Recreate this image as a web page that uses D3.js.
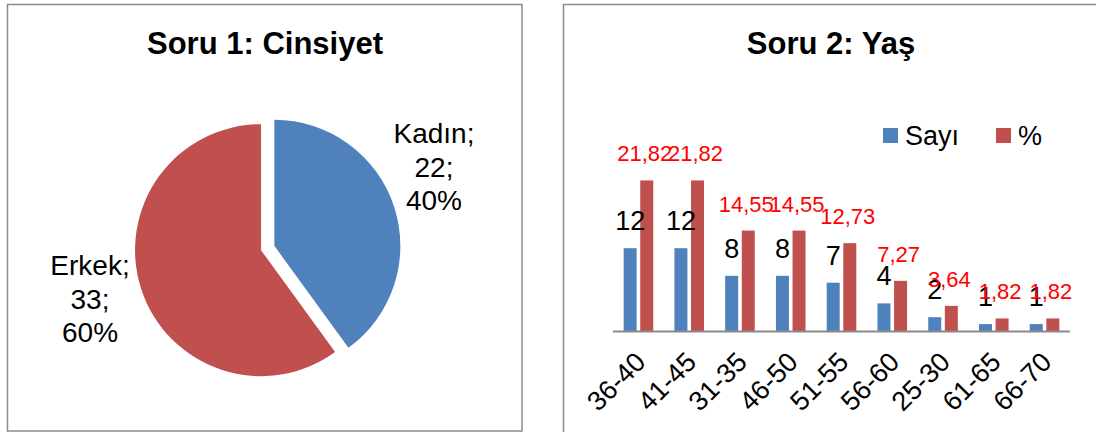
<!DOCTYPE html>
<html>
<head>
<meta charset="utf-8">
<script src="https://cdn.jsdelivr.net/npm/d3@7"></script>
<style>
  body { margin: 0; background: #fff; }
  svg { display: block; font-family: "Liberation Sans", Arial, sans-serif; }
</style>
</head>
<body>
<svg width="1096" height="432"></svg>
<script>
// soru 1
const genders = ["Kadın", "Erkek"];
const genderCounts = [22, 33];

// soru 2
const ageGroups = ["36-40", "41-45", "31-35", "46-50", "51-55", "56-60", "25-30", "61-65", "66-70"];
const ageCounts = [12, 12, 8, 8, 7, 4, 2, 1, 1];
const agePercents = [21.82, 21.82, 14.55, 14.55, 12.73, 7.27, 3.64, 1.82, 1.82];
const seriesNames = ["Sayı", "%"];

const blue = "#4F81BD", red = "#C0504D";
const svg = d3.select("svg");
const tr = d3.formatLocale({decimal: ",", thousands: ".", grouping: [3], currency: ["", "₺"]});
const fmtPct = tr.format(".2f");

// panel frames
svg.append("rect").attr("x", 7.5).attr("y", 4.5).attr("width", 514.5).attr("height", 426.5)
  .attr("fill", "none").attr("stroke", "#8c8c8c").attr("stroke-width", 1.5);
svg.append("rect").attr("x", 563.5).attr("y", 4.5).attr("width", 560).attr("height", 460)
  .attr("fill", "none").attr("stroke", "#8c8c8c").attr("stroke-width", 1.5);

// ---- pie ----
svg.append("text").attr("x", 265).attr("y", 54).attr("text-anchor", "middle")
  .style("font-size", "31px").style("font-weight", "bold").text("Soru 1: Cinsiyet");

const cx = 267.7, cy = 248, r = 126, explode = 7;
const pie = d3.pie().sort(null)(genderCounts);
const arc = d3.arc().innerRadius(0).outerRadius(r);
const total = d3.sum(genderCounts);

const pieG = svg.append("g").attr("transform", `translate(${cx},${cy})`);
pieG.selectAll("path")
  .data(pie)
  .enter().append("path")
  .attr("d", arc)
  .attr("fill", (d, i) => i === 0 ? blue : red)
  .attr("transform", d => {
    const a = (d.startAngle + d.endAngle) / 2;
    return `translate(${Math.sin(a) * explode},${-Math.cos(a) * explode})`;
  });

const pieLabelPos = [[434 - cx, 143 - cy], [90 - cx, 275 - cy]];
pie.forEach((d, i) => {
  const t = pieG.append("text")
    .attr("text-anchor", "middle")
    .style("font-size", "28px")
    .attr("x", pieLabelPos[i][0]).attr("y", pieLabelPos[i][1]);
  const lines = [genders[i] + ";", genderCounts[i] + ";", Math.round(genderCounts[i] / total * 100) + "%"];
  lines.forEach((s, j) => {
    t.append("tspan").attr("x", pieLabelPos[i][0]).attr("dy", j === 0 ? 0 : 33.5).text(s);
  });
});

// ---- bars ----
svg.append("text").attr("x", 831).attr("y", 54).attr("text-anchor", "middle")
  .style("font-size", "31px").style("font-weight", "bold").text("Soru 2: Yaş");

const x0 = d3.scaleBand().domain(ageGroups).range([613, 1070]).paddingInner(0.417).paddingOuter(0.21);
const x1 = d3.scaleBand().domain(seriesNames).range([0, x0.bandwidth()]).paddingInner(0.217);
const y = d3.scaleLinear().domain([0, 25]).range([331, 158.5]);

const rows = ageGroups.map((g, i) => ({g, vals: [ageCounts[i], agePercents[i]]}));

const groups = svg.append("g").selectAll("g")
  .data(rows)
  .enter().append("g")
  .attr("transform", d => `translate(${x0(d.g)},0)`);

groups.selectAll("rect")
  .data(d => d.vals.map((v, k) => ({k, v})))
  .enter().append("rect")
  .attr("x", d => x1(seriesNames[d.k]))
  .attr("width", x1.bandwidth())
  .attr("y", d => y(d.v))
  .attr("height", d => y(0) - y(d.v))
  .attr("fill", d => d.k === 0 ? blue : red);

// axis line
svg.append("line").attr("x1", 613).attr("x2", 1070).attr("y1", y(0) + 0.5).attr("y2", y(0) + 0.5)
  .attr("stroke", "#8a8a8a").attr("stroke-width", 2);

// data labels
groups.append("text")
  .attr("x", x1("Sayı") + x1.bandwidth() / 2)
  .attr("y", d => y(d.vals[0]) - 18)
  .attr("text-anchor", "middle")
  .style("font-size", "27px")
  .attr("fill", "#000")
  .text(d => d.vals[0]);

groups.append("text")
  .attr("x", x1("%") + x1.bandwidth() / 2 - 2)
  .attr("y", d => y(d.vals[1]) - 19)
  .attr("text-anchor", "middle")
  .style("font-size", "22px")
  .attr("fill", "#FF0000")
  .text(d => fmtPct(d.vals[1]));

// x tick labels
svg.append("g").selectAll("text")
  .data(ageGroups)
  .enter().append("text")
  .attr("text-anchor", "end")
  .attr("dy", "0.35em")
  .style("font-size", "27px")
  .attr("transform", d => `translate(${x0(d) + x0.bandwidth() / 2 + 2},357) rotate(-45)`)
  .text(d => d);

// legend
const legend = svg.append("g");
const legendX = [883, 996];
seriesNames.forEach((s, i) => {
  legend.append("rect").attr("x", legendX[i]).attr("y", 128).attr("width", 15).attr("height", 15)
    .attr("fill", i === 0 ? blue : red);
  legend.append("text").attr("x", legendX[i] + 22).attr("y", 145)
    .style("font-size", "27px").text(s);
});
</script>
</body>
</html>
